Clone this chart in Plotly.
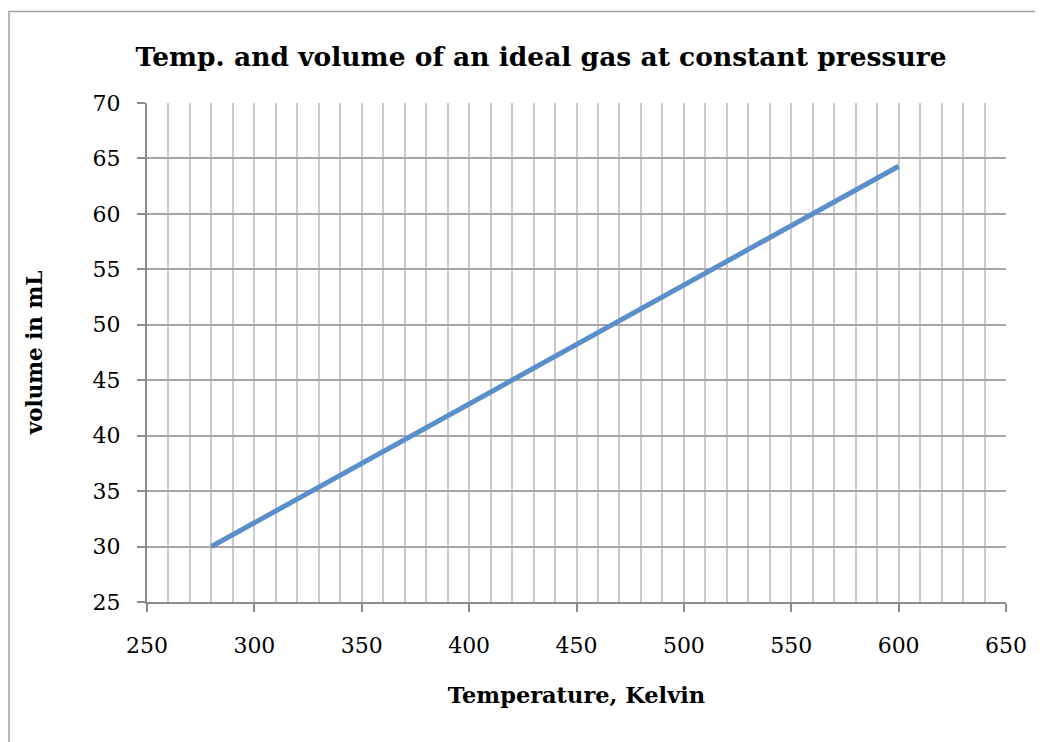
import plotly.graph_objects as go

temperature_k = [280, 320, 360, 400, 440, 480, 520, 560, 600]
volume_ml = [30.0, 34.3, 38.6, 42.9, 47.1, 51.4, 55.7, 60.0, 64.3]

title_text = "Temp. and volume of an ideal gas at constant pressure"
x_title = "Temperature, Kelvin"
y_title = "volume in mL"

# page body has an 8px margin; positions below are in screenshot pixels
OFF = 8
W, H = 1043 - OFF, 742 - OFF
L, R, T, B = 147 - OFF, 1006 - OFF, 103 - OFF, 602 - OFF

def px_x(p):
    return (p - OFF - L) / (R - L)

def px_y(p):
    return (B - (p - OFF)) / (B - T)

fig = go.Figure()
fig.add_trace(go.Scatter(x=temperature_k, y=volume_ml, mode="lines",
                         line=dict(color="#5b8fca", width=5), showlegend=False))

serif = "DejaVu Serif"

fig.update_layout(
    width=W, height=H,
    margin=dict(l=L, r=W - R, t=T, b=H - B),
    paper_bgcolor="white", plot_bgcolor="white",
    font=dict(family=serif, color="black"),
    title=dict(text="<b>" + title_text + "</b>", x=(541 - OFF) / W, xanchor="center",
               xref="container", y=1 - (57 - OFF) / H, yanchor="middle",
               font=dict(size=26.5, family=serif, color="black")),
    xaxis=dict(range=[250, 650], dtick=50, tick0=250,
               showline=True, linecolor="#8c8c8c", linewidth=2,
               ticks="outside", ticklen=8, tickwidth=1.5, tickcolor="#8c8c8c",
               showgrid=True, gridcolor="#cacaca", gridwidth=1.5,
               minor=dict(dtick=10, showgrid=True, gridcolor="#cacaca", gridwidth=1.5),
               tickfont=dict(size=22, family=serif), ticklabelstandoff=15,
               zeroline=False,
               title=dict(text="<b>" + x_title + "</b>", font=dict(size=22.5, family=serif),
                          standoff=30)),
    yaxis=dict(range=[25, 70], dtick=5, tick0=25,
               showline=True, linecolor="#8c8c8c", linewidth=2,
               ticks="outside", ticklen=8, tickwidth=1.5, tickcolor="#8c8c8c",
               showgrid=True, gridcolor="#a6a6a6", gridwidth=1.5,
               tickfont=dict(size=22, family=serif), ticklabelstandoff=12,
               zeroline=False,
               title=dict(text="<b>" + y_title + "</b>", font=dict(size=21.5, family=serif),
                          standoff=44)),
    shapes=[dict(type="rect", xref="paper", yref="paper",
                 x0=px_x(9), x1=px_x(1060), y0=px_y(760), y1=px_y(11.5),
                 line=dict(color="#a0a0a0", width=1.5), layer="below")],
)

fig.write_html("out.html")
